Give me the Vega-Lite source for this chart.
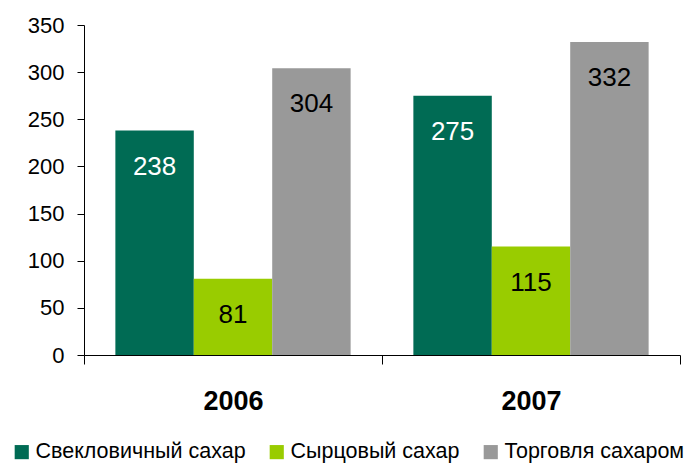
{
  "$schema": "https://vega.github.io/schema/vega-lite/v6.json",
  "width": 596,
  "height": 330,
  "autosize": {"type": "none"},
  "padding": {"left": 84, "top": 25, "right": 15, "bottom": 109},
  "background": "white",
  "config": {"view": {"stroke": null}, "font": "Liberation Sans"},
  "data": {
    "values": [
      {"year": "2006", "series": "Свекловичный сахар", "value": 238},
      {"year": "2006", "series": "Сырцовый сахар", "value": 81},
      {"year": "2006", "series": "Торговля сахаром", "value": 304},
      {"year": "2007", "series": "Свекловичный сахар", "value": 275},
      {"year": "2007", "series": "Сырцовый сахар", "value": 115},
      {"year": "2007", "series": "Торговля сахаром", "value": 332}
    ]
  },
  "encoding": {
    "x": {
      "field": "year", "type": "nominal",
      "scale": {"paddingInner": 0, "paddingOuter": 0},
      "axis": {
        "title": null, "labelAngle": 0, "tickBand": "extent",
        "labelFont": "Liberation Sans", "labelFontWeight": "bold", "labelFontSize": 27,
        "labelColor": "black", "labelPadding": 24, "tickSize": 9,
        "domainColor": "black", "tickColor": "black", "grid": false
      }
    },
    "xOffset": {
      "field": "series", "type": "nominal",
      "sort": ["Свекловичный сахар", "Сырцовый сахар", "Торговля сахаром"],
      "scale": {"paddingInner": 0, "paddingOuter": 0.4}
    },
    "y": {
      "field": "value", "type": "quantitative",
      "scale": {"domain": [0, 350], "nice": false},
      "axis": {
        "title": null, "values": [0, 50, 100, 150, 200, 250, 300, 350],
        "grid": false, "labelFontSize": 22, "labelColor": "black",
        "tickSize": 7, "labelPadding": 13, "domainColor": "black", "tickColor": "black"
      }
    },
    "color": {
      "field": "series", "type": "nominal",
      "sort": ["Свекловичный сахар", "Сырцовый сахар", "Торговля сахаром"],
      "scale": {
        "domain": ["Свекловичный сахар", "Сырцовый сахар", "Торговля сахаром"],
        "range": ["#006B54", "#99CC00", "#999999"]
      },
      "legend": {
        "title": null, "orient": "none", "direction": "horizontal",
        "legendX": -73, "legendY": 416, "padding": 0,
        "symbolType": "square", "symbolSize": 200, "symbolStrokeWidth": 0,
        "symbolOpacity": 1, "labelLimit": 400,
        "labelFontSize": 21.5, "labelColor": "black", "labelOffset": 3,
        "columnPadding": 20
      }
    }
  },
  "layer": [
    {"mark": {"type": "bar"}},
    {
      "mark": {"type": "text", "baseline": "middle", "align": "center", "dy": 36, "fontSize": 26},
      "encoding": {
        "text": {"field": "value", "type": "quantitative"},
        "color": {
          "condition": {"test": "datum.series === 'Свекловичный сахар'", "value": "white"},
          "value": "black"
        }
      }
    }
  ]
}
